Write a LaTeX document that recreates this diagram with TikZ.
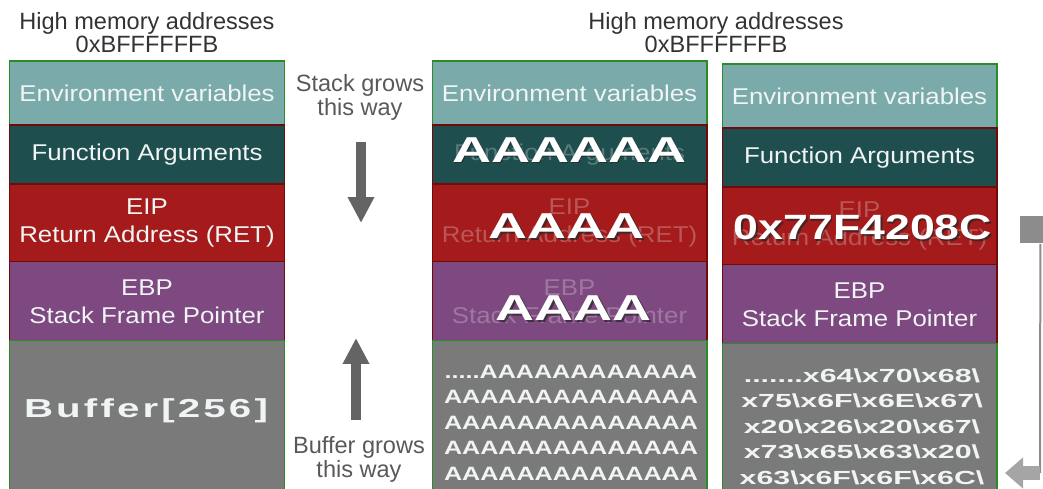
\documentclass[tikz,border=0pt]{standalone}
\usepackage{fontspec}
\setmainfont{Liberation Sans}
\newfontfamily\labelfont[FakeStretch=1.13]{Liberation Sans}
\newfontfamily\fillfont[FakeStretch=1.3]{Liberation Sans}
\newfontfamily\hexfont[FakeStretch=1.6]{Liberation Sans}
\newfontfamily\junkfont[FakeStretch=1.5]{Liberation Sans}
\newfontfamily\addrfont[FakeStretch=1.27]{Liberation Sans}
\newfontfamily\bufferfont[FakeStretch=1.55,LetterSpace=12]{Liberation Sans}
\usepackage{tikz}
\usetikzlibrary{positioning,arrows.meta}

\definecolor{envcol}{RGB}{122,170,170}
\definecolor{argcol}{RGB}{30,78,78}
\definecolor{retcol}{RGB}{165,26,26}
\definecolor{ebpcol}{RGB}{126,72,128}
\definecolor{bufcol}{RGB}{122,122,122}
\definecolor{okline}{RGB}{40,140,40}
\definecolor{redline}{RGB}{115,10,10}
\definecolor{celltext}{RGB}{240,244,244}
\definecolor{arrowgray}{RGB}{100,100,100}
\definecolor{jumpgray}{RGB}{140,140,140}
\definecolor{jumplight}{RGB}{165,165,165}

\tikzset{
  cell/.style={draw, line width=0.6pt, outer sep=0pt, inner sep=0pt, minimum width=5.5cm,
    text=celltext, align=center, font=\labelfont\fontsize{13}{16}\selectfont},
  envcell/.style={cell, fill=envcol, draw=okline, minimum height=1.28cm},
  argcell/.style={cell, fill=argcol, draw=redline, minimum height=1.18cm},
  retcell/.style={cell, fill=retcol, draw=redline, minimum height=1.56cm},
  ebpcell/.style={cell, fill=ebpcol, draw=redline, minimum height=1.58cm},
  bufcell/.style={cell, fill=bufcol, draw=okline, minimum height=3.2cm},
  ghost/.style={text opacity=0.28},
  head/.style={align=center, inner sep=0pt, text=black!80, font=\fontsize{13.4}{13.1}\selectfont},
  note/.style={align=center, inner sep=0pt, text=black!65, font=\fontsize{13.4}{12.4}\selectfont},
  junk/.style={inner sep=0pt, text=white, font=\junkfont\bfseries\fontsize{20.5}{20.5}\selectfont},
  addr/.style={junk, font=\addrfont\bfseries\fontsize{20}{20}\selectfont},
  code/.style={align=center, inner sep=0pt, text=celltext, font=\fillfont\bfseries\fontsize{11}{14.5}\selectfont},
  hexcode/.style={code, font=\hexfont\bfseries\fontsize{10.8}{14.5}\selectfont},
  bufname/.style={anchor=base, inner sep=0pt, text=celltext, font=\bufferfont\bfseries\fontsize{14.8}{14.8}\selectfont},
  growarrow/.style={draw=arrowgray, line width=0.2cm, -{Triangle[width=0.5cm,length=0.52cm]}},
  jumpline/.style={draw=jumpgray, line width=0.04cm},
  jumphead/.style={draw=jumplight, line width=0.28cm, -{Triangle[width=0.6cm,length=0.36cm]}}
}

% big white text stamped over a cell, with a dark edge under it
\newcommand\overwrite[4][junk]{%
  \node[#1, text=black!85, text opacity=0.7, xshift=0.03cm, yshift=-0.03cm] at (#3) {#4};
  \node[#1] (#2) at (#3) {#4};}
\newcommand\bsl{\textbackslash}

\begin{document}
\begin{tikzpicture}[x=0.02cm, y=-0.02cm]
\useasboundingbox (0,0) rectangle (1043,489);

% normal frame
\node[head] (l-head) at (147,33) {High memory addresses\\0xBFFFFFFB};
\node[envcell] (l-env) at (147,93) {Environment variables};
\node[argcell, below=0pt of l-env] (l-arg) {Function Arguments};
\node[retcell, below=0pt of l-arg] (l-ret) {EIP\\Return Address (RET)};
\node[ebpcell, below=0pt of l-ret] (l-ebp) {EBP\\Stack Frame Pointer};
\node[bufcell, below=0pt of l-ebp] (l-buf) {};
\node[bufname] (l-name) at (146,417) {Buffer[256]};

% growth directions
\node[note] (stack-note) at (360,97.5) {Stack grows\\this way};
\node[note] (buffer-note) at (359,459.5) {Buffer grows\\this way};
\coordinate (sg-from) at (361,142);
\coordinate (sg-to) at (361,223);
\coordinate (bg-from) at (356,420);
\coordinate (bg-to) at (356,338);
\draw[growarrow] (sg-from) -- (sg-to);
\draw[growarrow] (bg-from) -- (bg-to);

% overflowed frames
\node[head] (m-head) at (716,33) {High memory addresses\\0xBFFFFFFB};

\node[envcell] (m-env) at (569.5,93) {Environment variables};
\node[argcell, ghost, below=0pt of m-env] (m-arg) {Function Arguments};
\node[retcell, ghost, below=0pt of m-arg] (m-ret) {EIP\\Return Address (RET)};
\node[ebpcell, ghost, below=0pt of m-ret] (m-ebp) {EBP\\Stack Frame Pointer};
\node[bufcell, below=0pt of m-ebp] (m-buf) {};
\overwrite{m-arg-a}{569.5,150}{AAAAAA}
\overwrite{m-ret-a}{567,226.5}{AAAA}
\overwrite{m-ebp-a}{574,308.5}{AAAA}
\node[code] (m-code) at (571,422.8) {.....AAAAAAAAAAAA\\AAAAAAAAAAAAAA\\AAAAAAAAAAAAAA\\AAAAAAAAAAAAAA\\AAAAAAAAAAAAAA};

\node[envcell] (r-env) at (859.5,96) {Environment variables};
\node[argcell, below=0pt of r-env] (r-arg) {Function Arguments};
\node[retcell, ghost, below=0pt of r-arg] (r-ret) {EIP\\Return Address (RET)};
\node[ebpcell, below=0pt of r-ret] (r-ebp) {EBP\\Stack Frame Pointer};
\node[bufcell, below=0pt of r-ebp] (r-buf) {};
\overwrite[addr]{r-addr}{863,227.5}{0x77F4208C}
\node[hexcode] (r-code) at (862,426.5) {.......x64\bsl x70\bsl x68\bsl\\x75\bsl x6F\bsl x6E\bsl x67\bsl\\x20\bsl x26\bsl x20\bsl x67\bsl\\x73\bsl x65\bsl x63\bsl x20\bsl\\x63\bsl x6F\bsl x6F\bsl x6C\bsl};

% jump back into the buffer
\node[fill=jumpgray, inner sep=0pt, minimum width=0.46cm, minimum height=0.56cm] (jump) at (1031,229.5) {};
\coordinate (bend) at (1040,473);
\coordinate (land) at (1005,473);
\draw[jumpline] ([xshift=-0.05cm]jump.south east) -- (bend);
\draw[jumphead] (bend) -- (land);
\end{tikzpicture}
\end{document}
